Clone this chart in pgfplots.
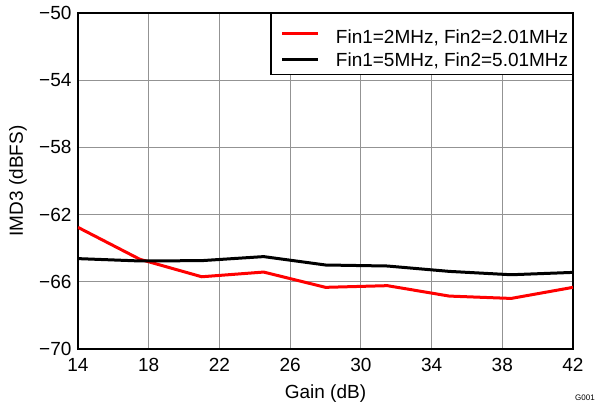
\documentclass[border=0pt]{standalone}
\usepackage{fontspec}
\setmainfont{Liberation Sans}
\usepackage{pgfplots}
\pgfplotsset{compat=1.18}
\begin{document}
\begin{tikzpicture}[x=1pt,y=1pt]
\path[use as bounding box] (-78,-58) rectangle (519,349);
\begin{axis}[
  scale only axis,
  width=495pt, height=336pt,
  xmin=14, xmax=42, ymin=-70, ymax=-50,
  xtick={14,18,...,42},
  ytick={-70,-66,-62,-58,-54,-50},
  yticklabels={−70,−66,−62,−58,−54,−50},
  major tick length=0pt,
  grid=major,
  grid style={gray!85, line width=0.9pt},
  axis line style={line width=2.2pt},
  font=\fontsize{19}{22}\selectfont,
  /pgf/number format/assume math mode=true,
  yticklabel style={xshift=-3pt},
  xticklabel style={yshift=-6pt},
  xlabel={Gain (dB)},
  ylabel={IMD3 (dBFS)},
  xlabel style={at={(axis description cs:0.5,0)}, anchor=center, yshift=-45pt},
  ylabel style={at={(axis description cs:0,0.5)}, anchor=center, yshift=60pt},
  legend style={at={(rel axis cs:1,1)}, anchor=north east, draw=black, line width=1.5pt,
    font=\fontsize{19}{22}\selectfont, inner xsep=2pt, inner ysep=5pt, row sep=3pt,
    /tikz/every odd column/.append style={column sep=14pt}},
  legend cell align=left,
  legend image code/.code={\path (0pt,0pt); \draw[#1] (8pt,0pt) -- (44pt,0pt);},
]
\addplot[red, line width=3pt] coordinates {
 (14,-62.76) (17.5,-64.66) (21,-65.70) (24.5,-65.42) (28,-66.33)
 (31.5,-66.23) (35,-66.85) (38.5,-66.99) (42,-66.33)};
\addlegendentry{\rule{0pt}{23pt}Fin1=2MHz, Fin2=2.01MHz}
\addplot[black, line width=3pt] coordinates {
 (14,-64.62) (17.5,-64.76) (21,-64.74) (24.5,-64.50) (28,-65.00)
 (31.5,-65.06) (35,-65.38) (38.5,-65.58) (42,-65.44)};
\addlegendentry{Fin1=5MHz, Fin2=5.01MHz}
\end{axis}
\node[font=\fontsize{8}{9}\selectfont] at (507,-49) {G001};
\end{tikzpicture}
\end{document}
